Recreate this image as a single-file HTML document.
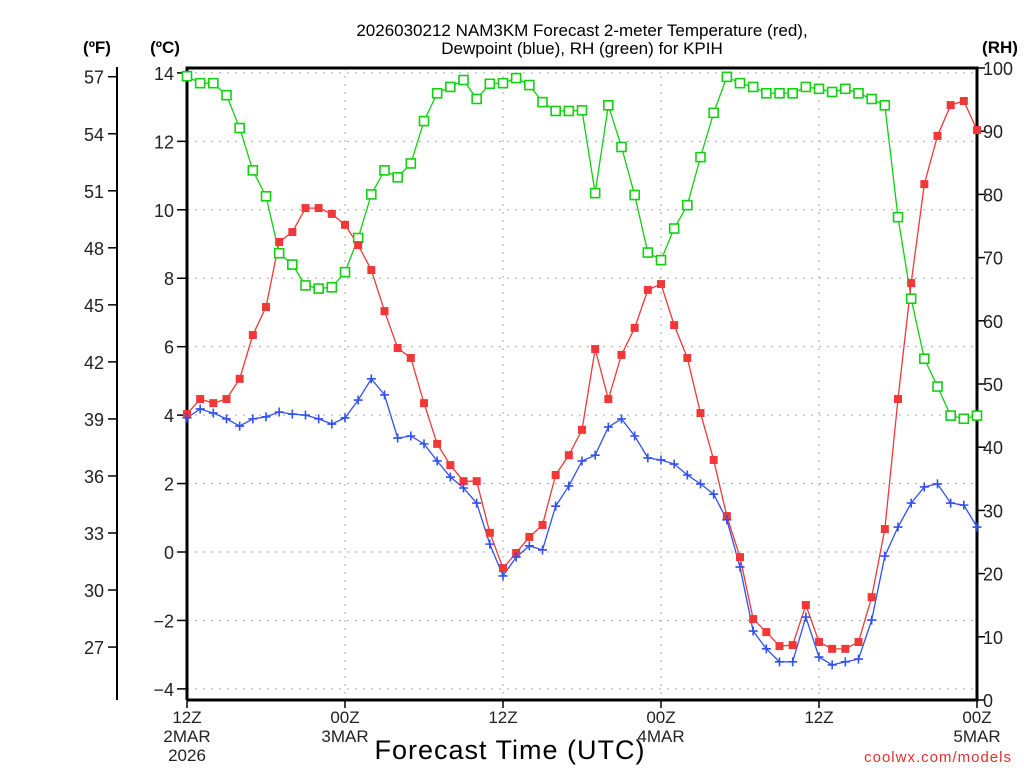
<!DOCTYPE html>
<html><head><meta charset="utf-8"><style>
body{margin:0;background:#fff}
svg{display:block;font-family:"Liberation Sans",sans-serif}
</style></head><body>
<svg id="chart" width="1024" height="768" viewBox="0 0 1024 768">
<g id="grid"></g>
<g id="axes"></g>
<g id="series"></g>
<text x="582" y="36" font-size="17" text-anchor="middle">2026030212 NAM3KM Forecast 2-meter Temperature (red),</text>
<text x="582" y="54" font-size="17" text-anchor="middle">Dewpoint (blue), RH (green) for KPIH</text>
<text x="97" y="53" font-size="17" font-weight="bold" text-anchor="middle">(ºF)</text>
<text x="165" y="53" font-size="17" font-weight="bold" text-anchor="middle">(ºC)</text>
<text x="1000" y="53" font-size="17" font-weight="bold" text-anchor="middle">(RH)</text>
<text x="510" y="759" font-size="27" text-anchor="middle" letter-spacing="1">Forecast Time (UTC)</text>
<text x="1012" y="762" font-size="15" fill="#e03030" text-anchor="end" letter-spacing="1">coolwx.com/models</text>
</svg>
<script>
const hours = Array.from({length:61},(_,i)=>i);
const tempC = [4.03,4.47,4.35,4.47,5.06,6.34,7.16,9.06,9.35,10.05,10.05,9.88,9.56,8.97,8.24,7.04,5.96,5.67,4.35,3.16,2.54,2.07,2.07,0.56,-0.47,-0.03,0.44,0.79,2.25,2.83,3.57,5.93,4.47,5.76,6.55,7.66,7.83,6.63,5.67,4.06,2.69,1.05,-0.15,-1.96,-2.34,-2.75,-2.72,-1.55,-2.63,-2.83,-2.83,-2.63,-1.32,0.67,4.47,7.86,10.75,12.16,13.06,13.18,12.33];
const dewC = [3.92,4.18,4.06,3.89,3.68,3.89,3.95,4.09,4.03,4.0,3.89,3.74,3.92,4.44,5.06,4.59,3.33,3.39,3.16,2.66,2.19,1.87,1.43,0.23,-0.70,-0.15,0.18,0.06,1.34,1.93,2.66,2.83,3.65,3.89,3.39,2.75,2.69,2.57,2.25,1.99,1.69,0.94,-0.44,-2.31,-2.83,-3.21,-3.21,-1.90,-3.07,-3.30,-3.21,-3.13,-1.99,-0.12,0.73,1.43,1.90,1.99,1.43,1.37,0.73];
const rh = [98.7,97.6,97.6,95.7,90.5,83.8,79.7,70.7,68.9,65.6,65.1,65.3,67.7,73.1,80.0,83.8,82.7,84.9,91.6,96.0,97.0,98.1,95.1,97.5,97.6,98.4,97.3,94.6,93.2,93.2,93.3,80.2,94.1,87.5,79.9,70.8,69.6,74.6,78.3,85.9,92.9,98.6,97.6,97.0,96.0,96.0,96.0,97.0,96.7,96.2,96.7,96.0,95.1,94.1,76.4,63.5,54.0,49.6,45.0,44.5,45.0];
const cTicks = [14,12,10,8,6,4,2,0,-2,-4];
const fTicks = [57,54,51,48,45,42,39,36,33,30,27];
const rhTicks = [100,90,80,70,60,50,40,30,20,10,0];
const xTickHours = [0,12,24,36,48,60];
const xTickLabels = [["12Z","2MAR","2026"],["00Z","3MAR"],["12Z"],["00Z","4MAR"],["12Z"],["00Z","5MAR"]];

const L=187,R=977,T=68,B=700;
const xS=h=>L+(R-L)*h/60;
const yC=c=>552-34.22*c;
const yRH=r=>B-(B-T)*r/100;
const NS="http://www.w3.org/2000/svg";
function mk(tag,attrs,parent){const e=document.createElementNS(NS,tag);for(const k in attrs)e.setAttribute(k,attrs[k]);parent.appendChild(e);return e;}
const grid=document.getElementById('grid'),axes=document.getElementById('axes'),series=document.getElementById('series');

cTicks.forEach(c=>{
  const y=yC(c);
  const g=mk('line',{x1:L,x2:R,y1:y,y2:y,stroke:'#aaa','stroke-dasharray':'2 6'},grid);
  
  
  const t=mk('line',{x1:L-10,x2:L,y1:y,y2:y,stroke:'#000','stroke-width':1.5},axes);
  
  
  const lb=mk('text',{x:L-13,y:y+7,'font-size':18,'text-anchor':'end',fill:'#222'},axes);
  lb.textContent=(c<0?'\u2212':'')+Math.abs(c);
  
  
});
xTickHours.forEach((h,i)=>{
  const x=xS(h);
  if(h>0&&h<60){const g=mk('line',{x1:x,x2:x,y1:T,y2:B,stroke:'#aaa','stroke-dasharray':'2 6'},grid);
  
  }
  const t=mk('line',{x1:x,x2:x,y1:B,y2:B+8,stroke:'#000','stroke-width':1.5},axes);
  
  
  xTickLabels[i].forEach((s,j)=>{
    const lb=mk('text',{x:x,y:723+j*19,'font-size':17,'text-anchor':'middle',fill:'#222'},axes);
    lb.textContent=s;
    
    
  });
});
fTicks.forEach(f=>{
  const y=yC((f-32)/1.8);
  const t=mk('line',{x1:108,x2:117,y1:y,y2:y,stroke:'#000','stroke-width':1.5},axes);
  
  
  const lb=mk('text',{x:104,y:y+7,'font-size':18,'text-anchor':'end',fill:'#222'},axes);
  lb.textContent=f;
  
  
});
rhTicks.forEach(r=>{
  const y=yRH(r);
  const t=mk('line',{x1:R,x2:R+8,y1:y,y2:y,stroke:'#000','stroke-width':1.5},axes);
  
  
  const lb=mk('text',{x:983,y:y+7,'font-size':18,'text-anchor':'start',fill:'#222'},axes);
  lb.textContent=r;
  
  
});
const fr=mk('path',{d:`M${L},${B}V${T}H${R}V${B}H${L}`,fill:'none',stroke:'#000','stroke-width':3},axes);


const fa=mk('line',{x1:117,x2:117,y1:67,y2:700,stroke:'#000','stroke-width':2},axes);



function drawLine(vals,yf,color,name){
  const p=mk('polyline',{points:vals.map((v,i)=>xS(hours[i])+','+yf(v)).join(' '),fill:'none',stroke:color,'stroke-width':1.3},series);
  
  
}
drawLine(rh,yRH,'#10d010','rh');
drawLine(tempC,yC,'#f03838','temperature');
drawLine(dewC,yC,'#3050f0','dewpoint');
rh.forEach((v,i)=>{
  const m=mk('rect',{x:xS(hours[i])-4.5,y:yRH(v)-4.5,width:9,height:9,fill:'#fff',stroke:'#10d010','stroke-width':1.6},series);
  
  
});
tempC.forEach((v,i)=>{
  const m=mk('rect',{x:xS(hours[i])-4,y:yC(v)-4,width:8,height:8,fill:'#f03838'},series);
  
  
});
dewC.forEach((v,i)=>{
  const x=xS(hours[i]),y=yC(v);
  const m=mk('path',{d:`M${x-4.5},${y}H${x+4.5}M${x},${y-4.5}V${y+4.5}`,stroke:'#3050f0','stroke-width':1.6},series);
  
  
});
</script>
</body></html>
